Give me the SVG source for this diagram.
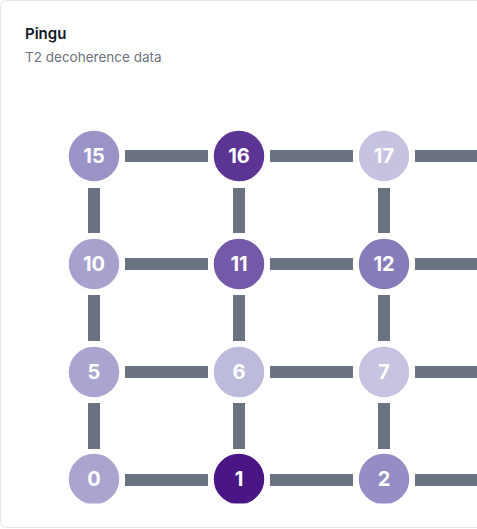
<svg xmlns="http://www.w3.org/2000/svg" width="477" height="529" viewBox="0 0 477 529">
  <style>
    .title { font-family: Inter, "Liberation Sans", sans-serif; font-size: 15px; font-weight: 600; fill: #111827; }
    .sub { font-family: Inter, "Liberation Sans", sans-serif; font-size: 13.5px; fill: #6b7280; }
    .edge { stroke: #6b7280; stroke-width: 12; fill: none; }
    .node circle { stroke: #ffffff; stroke-width: 1.5; }
    .node text { font-family: Inter, "Liberation Sans", sans-serif; font-size: 20px; font-weight: 700; fill: #ffffff; text-anchor: middle; }
  </style>
  <defs>
    <clipPath id="plot">
      <rect x="0" y="80" width="477" height="423.5"/>
    </clipPath>
  </defs>
  <rect x="0.5" y="0.5" width="490" height="527" rx="6" ry="6" fill="#ffffff" stroke="#e5e7eb" stroke-width="1"/>
  <text class="title" x="25" y="39">Pingu</text>
  <text class="sub" x="25" y="62">T2 decoherence data</text>
  <g clip-path="url(#plot)">
    <g id="connectors">
      <line class="edge" x1="125" y1="156" x2="208" y2="156"/>
      <line class="edge" x1="270" y1="156" x2="353" y2="156"/>
      <line class="edge" x1="415" y1="156" x2="480" y2="156"/>
      <line class="edge" x1="125" y1="264" x2="208" y2="264"/>
      <line class="edge" x1="270" y1="264" x2="353" y2="264"/>
      <line class="edge" x1="415" y1="264" x2="480" y2="264"/>
      <line class="edge" x1="125" y1="372" x2="208" y2="372"/>
      <line class="edge" x1="270" y1="372" x2="353" y2="372"/>
      <line class="edge" x1="415" y1="372" x2="480" y2="372"/>
      <line class="edge" x1="125" y1="480" x2="208" y2="480"/>
      <line class="edge" x1="270" y1="480" x2="353" y2="480"/>
      <line class="edge" x1="415" y1="480" x2="480" y2="480"/>
      <line class="edge" x1="94" y1="188" x2="94" y2="233"/>
      <line class="edge" x1="239" y1="188" x2="239" y2="233"/>
      <line class="edge" x1="384" y1="188" x2="384" y2="233"/>
      <line class="edge" x1="94" y1="295" x2="94" y2="341"/>
      <line class="edge" x1="239" y1="295" x2="239" y2="341"/>
      <line class="edge" x1="384" y1="295" x2="384" y2="341"/>
      <line class="edge" x1="94" y1="403" x2="94" y2="449"/>
      <line class="edge" x1="239" y1="403" x2="239" y2="449"/>
      <line class="edge" x1="384" y1="403" x2="384" y2="449"/>
    </g>
    <g id="node-15" class="node"><circle cx="94" cy="156" r="26" fill="#9a93c6"/><text x="94" y="163">15</text></g>
    <g id="node-16" class="node"><circle cx="239" cy="156" r="26" fill="#5b3494"/><text x="239" y="163">16</text></g>
    <g id="node-17" class="node"><circle cx="384" cy="156" r="26" fill="#c5c3e0"/><text x="384" y="163">17</text></g>
    <g id="node-10" class="node"><circle cx="94" cy="264" r="26" fill="#a7a2cd"/><text x="94" y="271">10</text></g>
    <g id="node-11" class="node"><circle cx="239" cy="264" r="26" fill="#7459a8"/><text x="239" y="271">11</text></g>
    <g id="node-12" class="node"><circle cx="384" cy="264" r="26" fill="#877cba"/><text x="384" y="271">12</text></g>
    <g id="node-5" class="node"><circle cx="94" cy="372" r="26" fill="#aaa5cf"/><text x="94" y="379">5</text></g>
    <g id="node-6" class="node"><circle cx="239" cy="372" r="26" fill="#bdbbdc"/><text x="239" y="379">6</text></g>
    <g id="node-7" class="node"><circle cx="384" cy="372" r="26" fill="#c6c4e0"/><text x="384" y="379">7</text></g>
    <g id="node-0" class="node"><circle cx="94" cy="479" r="26" fill="#aaa5cf"/><text x="94" y="486">0</text></g>
    <g id="node-1" class="node"><circle cx="239" cy="479" r="26" fill="#4a1686"/><text x="239" y="486">1</text></g>
    <g id="node-2" class="node"><circle cx="384" cy="479" r="26" fill="#958ec4"/><text x="384" y="486">2</text></g>
  </g>
</svg>
